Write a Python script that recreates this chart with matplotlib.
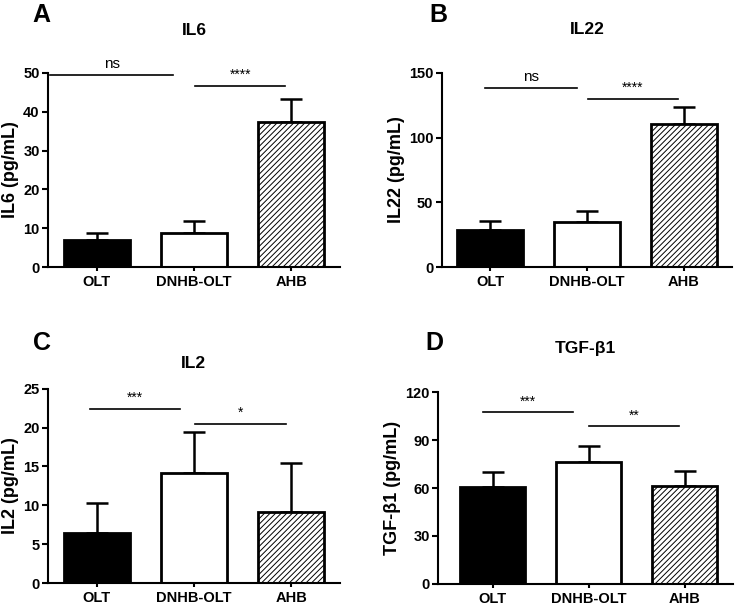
import matplotlib
matplotlib.use("Agg")
import matplotlib.pyplot as plt

plt.rcParams['font.family'] = ['Liberation Sans', 'DejaVu Sans']
plt.rcParams['hatch.linewidth'] = 0.7

groups = ["OLT", "DNHB-OLT", "AHB"]

il6_mean = [7.0, 8.8, 37.3]
il6_top = [8.7, 11.8, 43.3]
il22_mean = [28.7, 34.7, 110.7]
il22_top = [35.4, 43.2, 123.6]
il2_mean = [6.5, 14.2, 9.1]
il2_top = [10.3, 19.5, 15.4]
tgf_mean = [60.4, 76.0, 61.0]
tgf_top = [70.0, 86.0, 70.4]

# significance bars: (x0, x1, y, label)
il6_sig = [(-0.48, 0.79, 49.4, "ns"), (1.01, 1.94, 46.6, "****")]
il22_sig = [(-0.05, 0.90, 138.4, "ns"), (1.01, 1.94, 130.0, "****")]
il2_sig = [(-0.07, 0.86, 22.4, "***"), (1.01, 1.95, 20.5, "*")]
tgf_sig = [(-0.10, 0.84, 107.3, "***"), (1.00, 1.94, 98.5, "**")]

panels = [
    ("A", "IL6", "IL6 (pg/mL)", il6_mean, il6_top, il6_sig, [0, 10, 20, 30, 40, 50],
     [0.0653, 0.560, 0.397, 0.320], -0.5, 27, (-0.055, 1.30)),
    ("B", "IL22", "IL22 (pg/mL)", il22_mean, il22_top, il22_sig, [0, 50, 100, 150],
     [0.601, 0.560, 0.395, 0.320], -0.5, 28, (-0.041, 1.30)),
    ("C", "IL2", "IL2 (pg/mL)", il2_mean, il2_top, il2_sig, [0, 5, 10, 15, 20, 25],
     [0.0653, 0.0395, 0.397, 0.320], -0.5, 15, (-0.052, 1.237)),
    ("D", "TGF-β1", "TGF-β1 (pg/mL)", tgf_mean, tgf_top, tgf_sig, [0, 30, 60, 90, 120],
     [0.596, 0.038, 0.401, 0.316], -0.57, 28, (-0.044, 1.255)),
]

fig = plt.figure(figsize=(7.35, 6.07), dpi=100)

for letter, title, ylab, mean, top, sig, yt, pos, xl, tpad, lpos in panels:
    ax = fig.add_axes(pos)
    x = range(len(groups))
    err = [t - m for t, m in zip(top, mean)]
    ax.errorbar(x, mean, yerr=[[0] * 3, err], fmt="none", ecolor="black",
                elinewidth=1.8, capsize=8, capthick=1.8, zorder=1)
    ax.bar(x, mean, width=0.68, color=["black", "white", "white"],
           edgecolor="black", linewidth=2, hatch=[None, None, "//////"], zorder=2)
    for x0, x1, y, lab in sig:
        ax.plot([x0, x1], [y, y], color="black", lw=1.2, clip_on=False)
        ax.text((x0 + x1) / 2, y + yt[-1] * 0.02, lab, ha="center", va="bottom",
                fontsize=11 if lab == "ns" else 10)
    ax.set_xlim(xl, 2.5)
    ax.set_ylim(0, yt[-1])
    ax.set_yticks(yt)
    ax.set_xticks(list(x))
    ax.set_xticklabels(groups, fontsize=10.5, fontweight="bold")
    ax.tick_params(axis="y", labelsize=10.5, width=1.5, length=4, pad=2)
    ax.tick_params(axis="x", width=1.5, length=3, pad=3)
    for lbl in ax.get_yticklabels():
        lbl.set_fontweight("bold")
    ax.spines["top"].set_visible(False)
    ax.spines["right"].set_visible(False)
    ax.spines["left"].set_linewidth(1.5)
    ax.spines["bottom"].set_linewidth(1.5)
    ax.set_ylabel(ylab, fontsize=13, fontweight="bold", labelpad=3)
    ax.set_title(title, fontsize=12.5, fontweight="bold", pad=tpad)
    ax.text(lpos[0], lpos[1], letter, transform=ax.transAxes,
            fontsize=18, fontweight="bold", ha="left", va="center")

fig.savefig("out.png", dpi=100)
